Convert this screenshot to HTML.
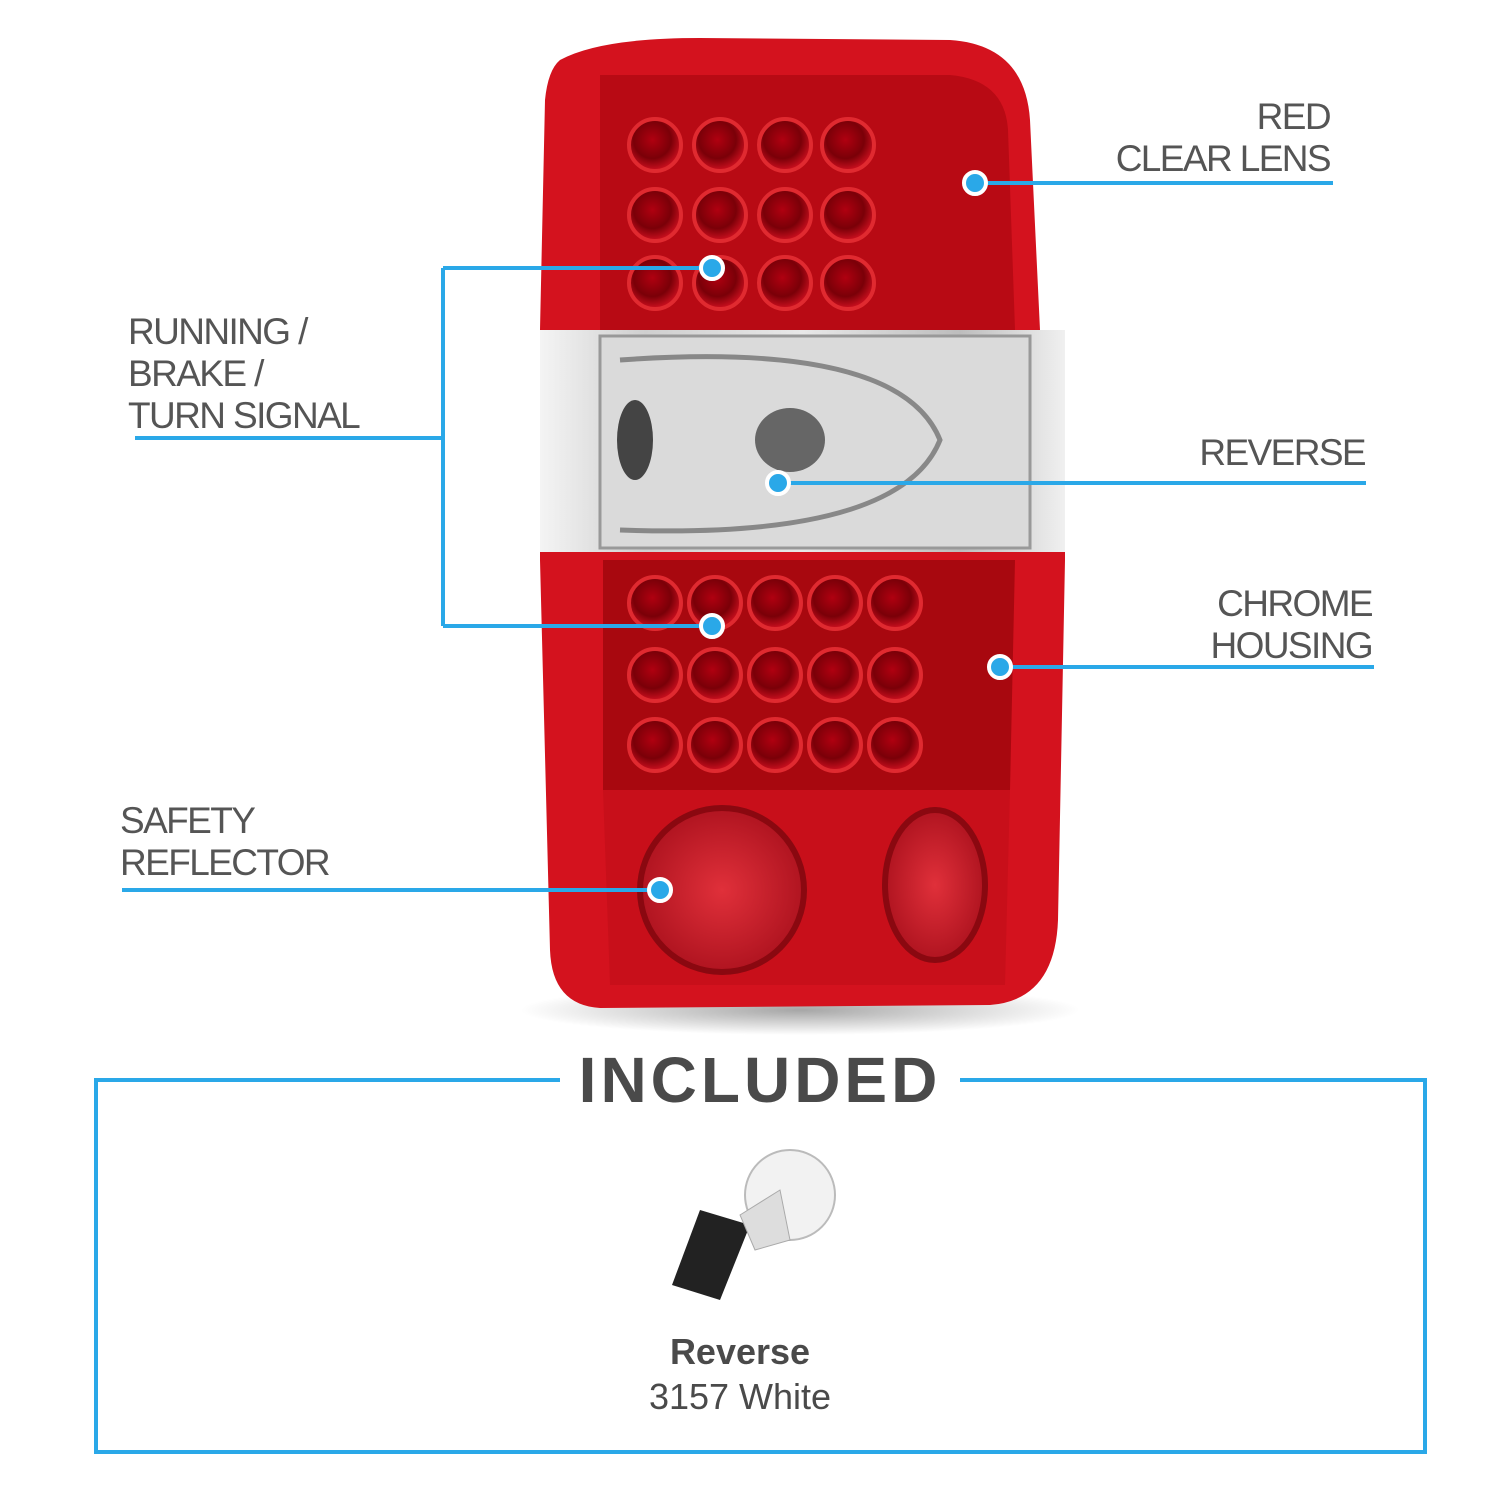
<!DOCTYPE html>
<html><head><meta charset="utf-8"><style>
html,body{margin:0;padding:0;background:#fff;}
body{width:1500px;height:1500px;position:relative;overflow:hidden;font-family:"Liberation Sans",sans-serif;}
.t{position:absolute;color:#555;font-size:37px;line-height:42px;letter-spacing:-1.6px;}
.r{text-align:right;}
</style></head><body>
<svg width="1500" height="1500" style="position:absolute;left:0;top:0">
<defs>
<radialGradient id="led" cx="45%" cy="40%" r="60%"><stop offset="0" stop-color="#b00010"/><stop offset="0.6" stop-color="#7a0008"/><stop offset="1" stop-color="#d01020"/></radialGradient>
<linearGradient id="wh" x1="0" y1="0" x2="1" y2="0"><stop offset="0" stop-color="#f4f4f4"/><stop offset="0.2" stop-color="#cfcfcf"/><stop offset="0.5" stop-color="#e8e8e8"/><stop offset="0.8" stop-color="#bdbdbd"/><stop offset="1" stop-color="#f0f0f0"/></linearGradient>
<radialGradient id="refl" cx="50%" cy="50%" r="50%"><stop offset="0" stop-color="#e0303a"/><stop offset="1" stop-color="#b01420"/></radialGradient>
<radialGradient id="sh" cx="50%" cy="50%" r="50%"><stop offset="0" stop-color="#000" stop-opacity="0.35"/><stop offset="1" stop-color="#000" stop-opacity="0"/></radialGradient>
</defs>
<ellipse cx="800" cy="1010" rx="280" ry="25" fill="url(#sh)"/>
<path d="M560,60 Q600,38 700,38 L950,40 Q1025,45 1030,120 L1040,330 L1065,330 L1065,560 L1058,920 Q1055,1000 990,1005 L600,1008 Q552,1005 550,950 L540,560 L540,330 L545,100 Q548,70 560,60 Z" fill="#d4121e"/>
<path d="M600,75 L950,75 Q1005,80 1008,130 L1015,330 L600,330 Z" fill="#b80a14"/>
<path d="M603,560 L1015,560 L1010,790 L603,790 Z" fill="#a8080f"/>
<path d="M603,790 L1010,790 L1005,985 L610,985 Z" fill="#c80f1a"/>
<rect x="540" y="330" width="525" height="222" fill="url(#wh)"/>
<rect x="600" y="336" width="430" height="212" fill="#dadada" stroke="#999" stroke-width="3"/>
<path d="M620,360 Q900,340 940,440 Q900,540 620,530" fill="none" stroke="#888" stroke-width="5"/>
<ellipse cx="790" cy="440" rx="35" ry="32" fill="#666"/>
<ellipse cx="635" cy="440" rx="18" ry="40" fill="#444"/>
<g fill="url(#led)" stroke="#e02a30" stroke-width="4">
<circle cx="655" cy="145" r="26"/><circle cx="720" cy="145" r="26"/><circle cx="785" cy="145" r="26"/><circle cx="848" cy="145" r="26"/>
<circle cx="655" cy="215" r="26"/><circle cx="720" cy="215" r="26"/><circle cx="785" cy="215" r="26"/><circle cx="848" cy="215" r="26"/>
<circle cx="655" cy="283" r="26"/><circle cx="720" cy="283" r="26"/><circle cx="785" cy="283" r="26"/><circle cx="848" cy="283" r="26"/>
<circle cx="655" cy="603" r="26"/><circle cx="715" cy="603" r="26"/><circle cx="775" cy="603" r="26"/><circle cx="835" cy="603" r="26"/><circle cx="895" cy="603" r="26"/>
<circle cx="655" cy="675" r="26"/><circle cx="715" cy="675" r="26"/><circle cx="775" cy="675" r="26"/><circle cx="835" cy="675" r="26"/><circle cx="895" cy="675" r="26"/>
<circle cx="655" cy="745" r="26"/><circle cx="715" cy="745" r="26"/><circle cx="775" cy="745" r="26"/><circle cx="835" cy="745" r="26"/><circle cx="895" cy="745" r="26"/>
</g>
<circle cx="722" cy="890" r="82" fill="url(#refl)" stroke="#8a0810" stroke-width="6"/>
<ellipse cx="935" cy="885" rx="50" ry="75" fill="url(#refl)" stroke="#8a0810" stroke-width="6"/>
<g stroke="#2aa8e8" stroke-width="4" fill="none">
<path d="M975,183 H1333"/>
<path d="M135,438 H443 M443,268 V626 M443,268 H712 M443,626 H712"/>
<path d="M778,483 H1366"/>
<path d="M1000,667 H1374"/>
<path d="M122,890 H660"/>
<path d="M560,1080 H96 V1452 H1425 V1080 H960"/>
</g>
<g fill="#2aa8e8" stroke="#fff" stroke-width="4">
<circle cx="975" cy="183" r="11"/><circle cx="712" cy="268" r="11"/><circle cx="712" cy="626" r="11"/>
<circle cx="778" cy="483" r="11"/><circle cx="1000" cy="667" r="11"/><circle cx="660" cy="890" r="11"/>
</g>
<circle cx="790" cy="1195" r="45" fill="#f2f2f2" stroke="#bbb" stroke-width="2"/>
<path d="M700,1210 L750,1225 L720,1300 L672,1285 Z" fill="#222"/>
<path d="M740,1215 L780,1190 L790,1240 L755,1250 Z" fill="#ddd" stroke="#aaa"/>
</svg>
<div class="t r" style="right:170px;top:96px">RED<br>CLEAR LENS</div>
<div class="t" style="left:128px;top:311px">RUNNING /<br>BRAKE /<br>TURN SIGNAL</div>
<div class="t r" style="right:135px;top:432px">REVERSE</div>
<div class="t r" style="right:128px;top:583px">CHROME<br>HOUSING</div>
<div class="t" style="left:120px;top:800px">SAFETY<br>REFLECTOR</div>
<div style="position:absolute;left:560px;width:400px;top:1040px;text-align:center;font-weight:bold;font-size:64px;color:#4a4a4a;letter-spacing:4px;line-height:80px">INCLUDED</div>
<div style="position:absolute;left:540px;width:400px;top:1330px;text-align:center;font-weight:bold;font-size:36px;color:#4a4a4a;line-height:44px">Reverse</div>
<div style="position:absolute;left:540px;width:400px;top:1375px;text-align:center;font-size:36px;color:#4a4a4a;line-height:44px">3157 White</div>
</body></html>
